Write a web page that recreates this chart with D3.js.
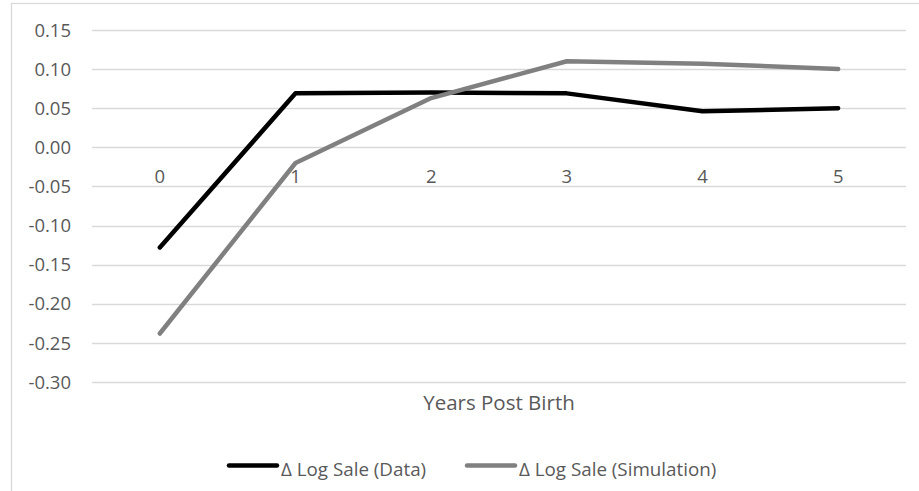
<!DOCTYPE html>
<html><head><meta charset="utf-8">
<script src="https://cdn.jsdelivr.net/npm/d3@7"></script>
<style>body{margin:0;background:#fff}svg{display:block}</style>
</head><body>
<script>
const categories = ["0","1","2","3","4","5"];
const dataSeries = [-0.128, 0.069, 0.070, 0.069, 0.046, 0.050];
const simSeries = [-0.238, -0.020, 0.063, 0.110, 0.107, 0.100];
const yTicks = [0.15, 0.10, 0.05, 0.00, -0.05, -0.10, -0.15, -0.20, -0.25, -0.30];
const seriesNames = ["\u0394 Log Sale (Data)", "\u0394 Log Sale (Simulation)"];
const xTitle = "Years Post Birth";

const W = 919, H = 491;
const font = "'Open Sans', sans-serif";
const fs = 18.5;
const textColor = "#595959";
const svg = d3.select("body").append("svg").attr("width", W).attr("height", H);

svg.append("rect").attr("x", 11.5).attr("y", 3.5).attr("width", 920).attr("height", 520)
  .attr("fill", "#fff").attr("stroke", "#d9d9d9").attr("stroke-width", 1.3);

const x = d3.scaleBand().domain(categories).range([92, 906]);
const y = d3.scaleLinear().domain([-0.30, 0.15]).range([382, 30]);

// gridlines
svg.append("g").selectAll("line").data(yTicks).join("line")
  .attr("x1", 92).attr("x2", 906)
  .attr("y1", d => Math.round(y(d)) + 0.5).attr("y2", d => Math.round(y(d)) + 0.5)
  .attr("stroke", "#d9d9d9").attr("stroke-width", 1.3);

// y labels
svg.append("g").selectAll("text").data(yTicks).join("text")
  .attr("x", 71).attr("y", d => y(d)).attr("dy", "0.36em")
  .attr("text-anchor", "end").attr("fill", textColor)
  .attr("font-family", font).attr("font-size", fs)
  .text(d => d3.format(".2f")(d).replace("\u2212", "-"));

// x labels (at zero line)
svg.append("g").selectAll("text").data(categories).join("text")
  .attr("x", d => x(d) + x.bandwidth() / 2).attr("y", y(0) + 35.5)
  .attr("text-anchor", "middle").attr("fill", textColor)
  .attr("font-family", font).attr("font-size", fs)
  .text(d => d);

// axis title
svg.append("text").attr("x", (92 + 906) / 2).attr("y", 409.5)
  .attr("text-anchor", "middle").attr("fill", textColor)
  .attr("font-family", font).attr("font-size", 20.5).text(xTitle);

const line = d3.line().x((d, i) => x(categories[i]) + x.bandwidth() / 2).y(d => y(d));
const colors = ["#000000", "#808080"];
[dataSeries, simSeries].forEach((s, k) => {
  svg.append("path").datum(s).attr("d", line).attr("fill", "none")
    .attr("stroke", colors[k]).attr("stroke-width", 4.5)
    .attr("stroke-linecap", "round").attr("stroke-linejoin", "round");
});

// legend
const legX = [229, 467];
seriesNames.forEach((n, k) => {
  svg.append("line").attr("x1", legX[k]).attr("x2", legX[k] + 48)
    .attr("y1", 465.5).attr("y2", 465.5).attr("stroke", colors[k]).attr("stroke-width", 4.5)
    .attr("stroke-linecap", "round");
  svg.append("text").attr("x", legX[k] + 52).attr("y", 475.5)
    .attr("fill", textColor).attr("font-family", font).attr("font-size", 18.8).text(n);
});
</script>
</body></html>
